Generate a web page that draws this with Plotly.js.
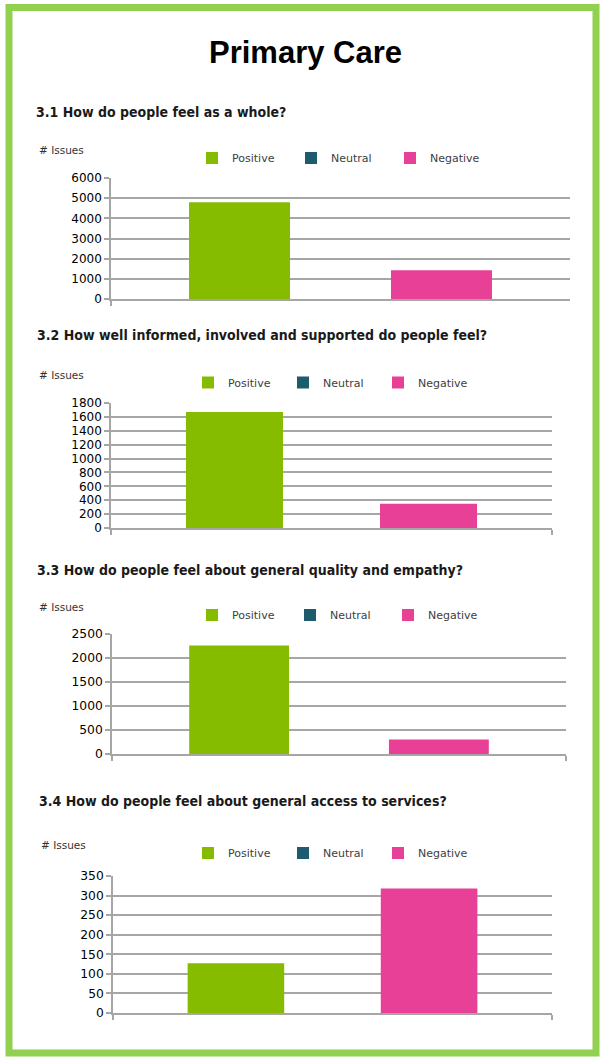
<!DOCTYPE html>
<html>
<head>
<meta charset="utf-8">
<script src="https://cdn.plot.ly/plotly-3.0.1.min.js"></script>
<style>
html,body{margin:0;padding:0;background:#fff;}
#chart{width:600px;height:1058px;}
</style>
</head>
<body>
<div id="chart"></div>
<script>
// ---- data ----
const mainTitle = 'Primary Care';
const categories = ['All issues'];
const seriesNames = ['Positive', 'Neutral', 'Negative'];
const seriesColors = ['#85bc00', '#1f5b6e', '#e84096'];
const questionTitles = [
  '3.1 How do people feel as a whole?',
  '3.2 How well informed, involved and supported do people feel?',
  '3.3 How do people feel about general quality and empathy?',
  '3.4 How do people feel about general access to services?'
];
const q1Values = [4800, 0, 1420];
const q2Values = [1670, 0, 350];
const q3Values = [2260, 0, 300];
const q4Values = [127, 0, 318];
const yAxisTitle = '# Issues';
const yMax = [6000, 1800, 2500, 350];
const yStep = [1000, 200, 500, 50];

// ---- layout geometry (pixels) ----
const W = 600, H = 1058;
const fx = p => p / W;
const fy = p => 1 - p / H;
const panels = [
  {x0: 111, x1: 570, y0: 178, y1: 299, tick: 12, sub: [34, 112.5], iss: [37, 150], leg: [192, 158], ew: 54},
  {x0: 111, x1: 552, y0: 403, y1: 528, tick: 12, sub: [35, 335],   iss: [37, 375], leg: [188, 382.5], ew: 50},
  {x0: 112, x1: 566, y0: 634, y1: 754, tick: 12.3, sub: [35, 570], iss: [37, 607], leg: [192, 615], ew: 53},
  {x0: 113, x1: 552, y0: 876, y1: 1013, tick: 12.3, sub: [37, 801], iss: [39, 845], leg: [188, 853], ew: 50}
];
const allValues = [q1Values, q2Values, q3Values, q4Values];

const traces = [];
const layout = {
  width: W, height: H,
  margin: {l: 0, r: 0, t: 0, b: 0},
  paper_bgcolor: '#ffffff',
  plot_bgcolor: '#ffffff',
  barmode: 'group',
  bargap: 0.34,
  bargroupgap: 0,
  showlegend: true,
  annotations: [],
  shapes: [{
    type: 'rect', xref: 'paper', yref: 'paper',
    x0: fx(9), x1: fx(596), y0: fy(7.5), y1: fy(1053),
    line: {color: '#92d050', width: 7}, fillcolor: 'rgba(0,0,0,0)', layer: 'above'
  }]
};

layout.annotations.push({
  text: '<b>' + mainTitle + '</b>', xref: 'paper', yref: 'paper',
  x: fx(305), y: fy(52), xanchor: 'center', yanchor: 'middle', showarrow: false,
  font: {family: 'Liberation Sans, Arial, sans-serif', size: 31, color: '#000'}
});

panels.forEach((p, i) => {
  const k = i + 1;
  const xa = 'xaxis' + (k === 1 ? '' : k);
  const ya = 'yaxis' + (k === 1 ? '' : k);
  const lg = 'legend' + (k === 1 ? '' : k);
  seriesNames.forEach((name, s) => {
    traces.push({
      type: 'bar', name: name, x: categories, y: [allValues[i][s]],
      xaxis: 'x' + (k === 1 ? '' : k), yaxis: 'y' + (k === 1 ? '' : k),
      marker: {color: seriesColors[s], line: {width: 0}},
      legend: lg, hoverinfo: 'y+name'
    });
  });
  layout[xa] = {
    domain: [fx(p.x0), fx(p.x1)], anchor: 'y' + (k === 1 ? '' : k),
    type: 'category', showticklabels: false, showgrid: false,
    showline: true, linecolor: '#a6a6a6', linewidth: 1.5,
    ticks: 'outside', tickson: 'boundaries', ticklen: 5, tickcolor: '#a6a6a6', tickwidth: 1.5,
    zeroline: false, fixedrange: true
  };
  layout[ya] = {
    domain: [fy(p.y1), fy(p.y0)], anchor: 'x' + (k === 1 ? '' : k),
    range: [0, yMax[i]], tickmode: 'linear', tick0: 0, dtick: yStep[i],
    showgrid: true, gridcolor: '#a6a6a6', gridwidth: 1.5,
    showline: true, linecolor: '#a6a6a6', linewidth: 1.5,
    ticks: 'outside', ticklen: 5, tickcolor: '#a6a6a6', tickwidth: 1.5,
    zeroline: false, fixedrange: true,
    tickfont: {family: 'DejaVu Sans, Verdana, sans-serif', size: p.tick, color: '#000'}
  };
  layout[lg] = {
    orientation: 'h', x: fx(p.leg[0]), y: fy(p.leg[1]), xanchor: 'left', yanchor: 'middle',
    xref: 'paper', yref: 'paper',
    bgcolor: 'rgba(0,0,0,0)', borderwidth: 0,
    itemwidth: 30, entrywidth: p.ew, entrywidthmode: 'pixels',
    font: {family: 'DejaVu Sans, Verdana, sans-serif', size: 11, color: '#404040'},
    itemclick: false, itemdoubleclick: false
  };
  layout.annotations.push({
    text: '<b>' + questionTitles[i] + '</b>', xref: 'paper', yref: 'paper',
    x: fx(p.sub[0]), y: fy(p.sub[1]), xanchor: 'left', yanchor: 'middle', showarrow: false,
    font: {family: 'DejaVu Sans Condensed, DejaVu Sans, sans-serif', size: 14, color: '#1a1a1a'}
  });
  layout.annotations.push({
    text: yAxisTitle, xref: 'paper', yref: 'paper',
    x: fx(p.iss[0]), y: fy(p.iss[1]), xanchor: 'left', yanchor: 'middle', showarrow: false,
    font: {family: 'DejaVu Sans, Verdana, sans-serif', size: 10.5, color: '#333'}
  });
});

Plotly.newPlot('chart', traces, layout, {displayModeBar: false, staticPlot: false, responsive: false});
</script>
</body>
</html>
